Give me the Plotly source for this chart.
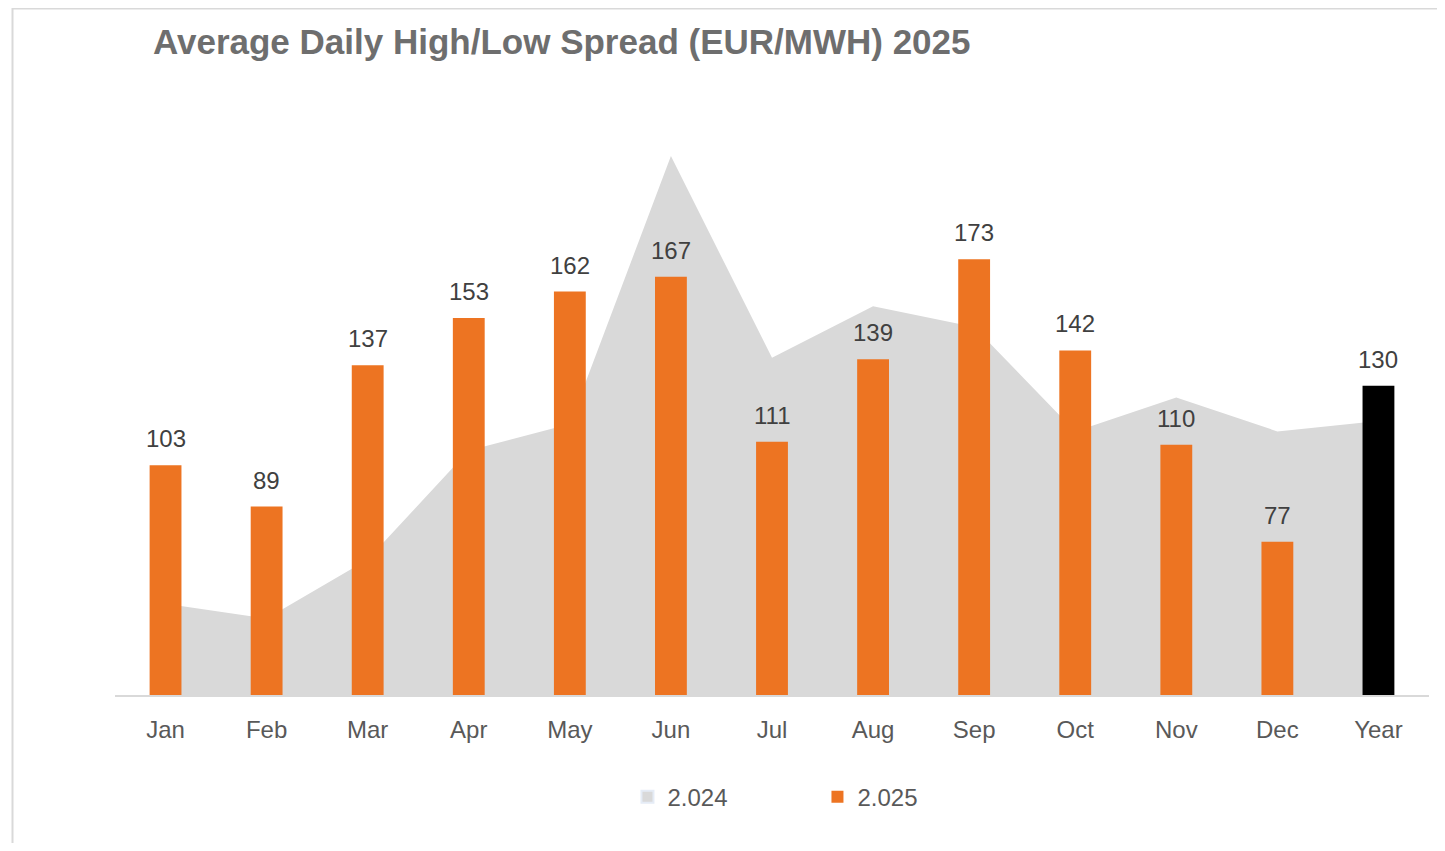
import plotly.graph_objects as go

categories = ["Jan", "Feb", "Mar", "Apr", "May", "Jun", "Jul", "Aug", "Sep", "Oct", "Nov", "Dec", "Year"]
values_2024 = [56, 51, 71, 108, 117, 208, 139.5, 157, 150, 114.5, 126, 114.5, 118]
values_2025 = [103, 89, 137, 153, 162, 167, 111, 139, 173, 142, 110, 77, 130]
name_2024 = "2.024"
name_2025 = "2.025"
title_text = "Average Daily High/Low Spread (EUR/MWH) 2025"

ORANGE = "#ED7422"
GRAY = "#D9D9D9"
bar_colors = [ORANGE] * (len(categories) - 1) + ["#000000"]

FONT = "Liberation Sans, Arial, sans-serif"

# page has an 8px body margin; figure is sized to fit inside it
OFF = 8
W, H = 1445 - 2 * OFF, 851 - 2 * OFF
L = 114.5 - OFF
T = 106.4 - OFF
R = W - (1428.6 - OFF)
B = H - (695 - OFF)
plot_w = W - L - R
plot_h = H - T - B
y_range = [25, 225]


def px_x(page_x):
    return (page_x - OFF - L) / plot_w


def px_y(page_y):
    return (H - B - (page_y - OFF)) / plot_h


fig = go.Figure()
# legend-only entry for the 2024 area (square swatch)
fig.add_trace(go.Bar(
    x=[None], y=[None], name=name_2024, marker=dict(color=GRAY),
    xaxis="x", yaxis="y", showlegend=True,
))
fig.add_trace(go.Scatter(
    x=categories, y=values_2024, name=name_2024, mode="lines",
    line=dict(width=0, color=GRAY), fill="tozeroy", fillcolor=GRAY,
    xaxis="x", yaxis="y", hoverinfo="skip", showlegend=False,
))
fig.add_trace(go.Bar(
    x=categories, y=values_2025, name=name_2025,
    marker=dict(color=bar_colors, line=dict(width=0)),
    width=0.315, xaxis="x", yaxis="y2",
))

for c, v in zip(categories, values_2025):
    fig.add_annotation(
        x=c, y=v, xref="x", yref="y2", text=str(v), showarrow=False,
        yanchor="bottom", yshift=11,
        font=dict(family=FONT, size=24, color="#404040"),
    )

# outer chart border (left + top)
fig.add_shape(
    type="rect", xref="paper", yref="paper",
    x0=px_x(12), x1=px_x(1470),
    y0=px_y(880), y1=px_y(9),
    line=dict(color="#D9D9D9", width=2), fillcolor="rgba(0,0,0,0)", layer="below",
)

fig.update_layout(
    width=W, height=H,
    margin=dict(l=L, r=R, t=T, b=B, autoexpand=False),
    paper_bgcolor="white", plot_bgcolor="white",
    title=dict(
        text="<b>" + title_text + "</b>",
        x=(153 - OFF) / W, xanchor="left", xref="container",
        y=1 - (42 - OFF) / H, yanchor="middle", yref="container",
        font=dict(family=FONT, size=35, color="#6E6E6E"),
    ),
    xaxis=dict(
        type="category", categoryorder="array", categoryarray=categories,
        showgrid=False, zeroline=False, showline=True, linecolor="#D9D9D9", linewidth=2,
        ticks="", ticklabelstandoff=12,
        tickfont=dict(family=FONT, size=24, color="#595959"),
    ),
    yaxis=dict(range=y_range, visible=False, showgrid=False, zeroline=False),
    yaxis2=dict(range=y_range, visible=False, showgrid=False, zeroline=False,
                overlaying="y"),
    barmode="overlay",
    showlegend=True,
    legend=dict(
        orientation="h", x=px_x(627), xanchor="left", y=px_y(797), yanchor="middle",
        font=dict(family=FONT, size=24, color="#595959"),
        entrywidth=145, itemsizing="constant", bgcolor="rgba(0,0,0,0)",
    ),
)

fig.write_html("out.html")
